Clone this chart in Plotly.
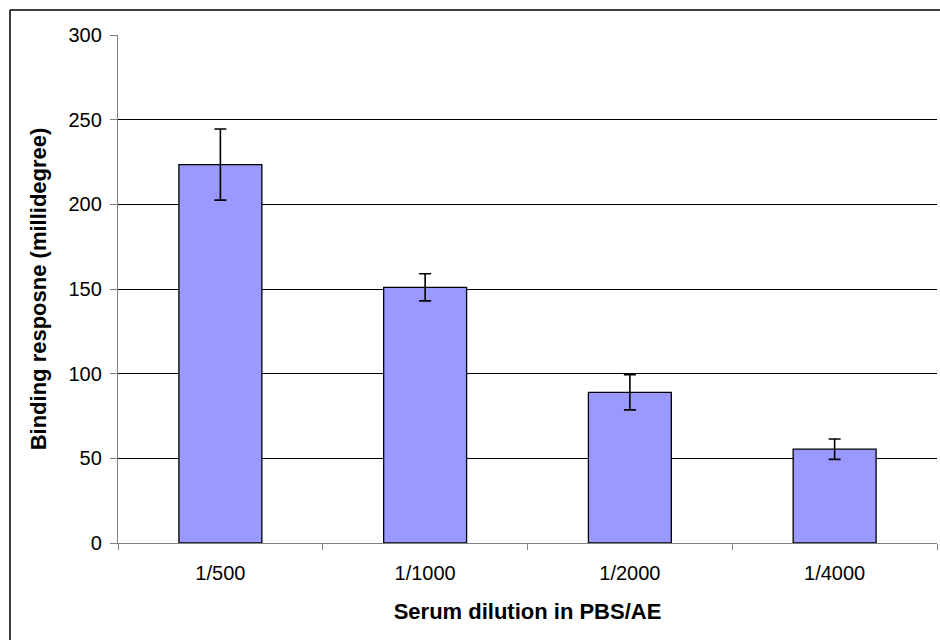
import plotly.graph_objects as go

categories = ["1/500", "1/1000", "1/2000", "1/4000"]
values = [223.5, 151.0, 89.0, 55.4]
errors = [21.0, 8.0, 10.4, 6.0]
y_ticks = [0, 50, 100, 150, 200, 250, 300]

fig = go.Figure()
fig.add_trace(go.Bar(
    x=categories, y=values,
    marker=dict(color="#9999FF", line=dict(color="black", width=1.3)),
    error_y=dict(type="data", array=errors, visible=True, color="black",
                 thickness=1.6, width=6),
    width=0.405,
))

W, H = 940, 640
L, R, T, B = 118, 3, 35, 97
pw, ph = W - L - R, H - T - B

def px(x):
    return (x - L) / pw

def py(y):
    return (H - B - y) / ph

fig.update_layout(
    width=W, height=H,
    margin=dict(l=L, r=R, t=T, b=B),
    plot_bgcolor="white", paper_bgcolor="white",
    showlegend=False,
    font=dict(family="Liberation Sans, Arial, sans-serif", color="black"),
    xaxis=dict(
        showline=True, linecolor="#808080", linewidth=1.3,
        ticks="outside", tickson="boundaries", ticklen=6, tickcolor="#808080",
        tickfont=dict(size=20), ticklabelstandoff=12,
        title=dict(text="<b>Serum dilution in PBS/AE</b>", font=dict(size=22), standoff=20),
        showgrid=False,
    ),
    yaxis=dict(
        range=[0, 300], tickvals=y_ticks,
        showline=True, linecolor="#808080", linewidth=1.3,
        ticks="outside", ticklen=7, tickcolor="#808080",
        tickfont=dict(size=20), ticklabelstandoff=4,
        showgrid=True, gridcolor="black", gridwidth=1,
        zeroline=False,
        title=dict(text="<b>Binding resposne (millidegree)</b>", font=dict(size=22), standoff=15),
    ),
    shapes=[
        dict(type="line", xref="paper", yref="paper", x0=px(10), x1=px(945), y0=py(10), y1=py(10),
             line=dict(color="black", width=1.5)),
        dict(type="line", xref="paper", yref="paper", x0=px(10), x1=px(10), y0=py(10), y1=py(645),
             line=dict(color="black", width=1.5)),
    ],
)

fig.write_html("out.html", config={"displayModeBar": False},
               post_script="document.body.style.margin='0px';document.body.style.overflow='hidden';")
